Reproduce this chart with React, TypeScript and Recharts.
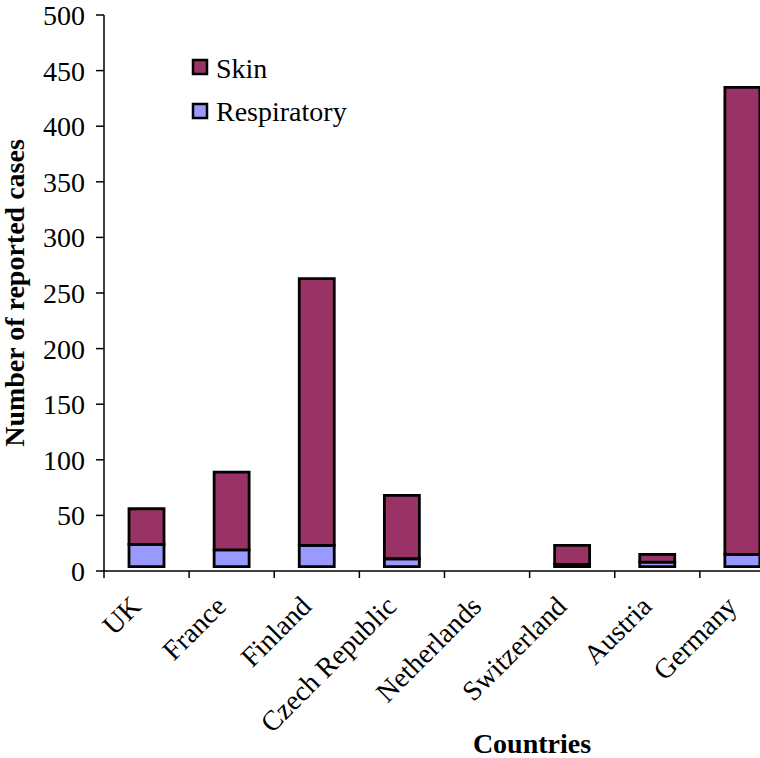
import React from 'react';
import { BarChart, Bar, XAxis, YAxis, Legend } from 'recharts';

// Reported cases per country, stacked: unspecified base, respiratory, skin
const countries = ['UK', 'France', 'Finland', 'Czech Republic', 'Netherlands', 'Switzerland', 'Austria', 'Germany'];
const otherCases = [4, 4, 4, 4, 0, 4, 4, 4];
const respiratoryCases = [20, 15, 19, 7, 0, 2, 4, 11];
const skinCases = [32, 70, 240, 57, 0, 17, 7, 420];
const yTicks = [0, 50, 100, 150, 200, 250, 300, 350, 400, 450, 500];

const SKIN_COLOR = '#993366';
const RESP_COLOR = '#9999FF';
const FONT = "'Liberation Serif', 'Times New Roman', serif";
const serif = { fontFamily: FONT };

const CHART_W = 800;
const CHART_H = 758;
const MARGIN = { top: 15, right: 15, bottom: 0, left: 0 };
const YAXIS_W = 104;
const XAXIS_H = 187;
const PLOT_W = CHART_W - MARGIN.right - MARGIN.left - YAXIS_W;
const PLOT_H = CHART_H - MARGIN.top - MARGIN.bottom - XAXIS_H;
const BAND = PLOT_W / countries.length;
const TICK_LEN = 7;

const data = countries.map((country, i) => ({
  country,
  other: otherCases[i],
  respiratory: respiratoryCases[i],
  skin: skinCases[i],
}));

const legendItems = [
  { name: 'Skin', color: SKIN_COLOR },
  { name: 'Respiratory', color: RESP_COLOR },
];

// Category tick: boundary tick marks plus a label slanted at -45 degrees
const CountryTick = (props: any) => {
  const { x, y, payload, index } = props;
  const half = BAND / 2;
  const axisY = y - TICK_LEN;
  const isLast = index === countries.length - 1;
  return (
    <g>
      <line x1={x - half} x2={x - half} y1={axisY} y2={y} stroke="#000" strokeWidth={1.5} />
      {isLast && (
        <line x1={x + half} x2={x + half} y1={axisY} y2={y} stroke="#000" strokeWidth={1.5} />
      )}
      <g transform={`translate(${x - 4},${y + 30})`}>
        <text textAnchor="end" transform="rotate(-45)" style={serif} fontSize={28} fill="#000">
          {payload.value}
        </text>
      </g>
    </g>
  );
};

// Value tick on the left axis
const CountTick = (props: any) => {
  const { x, y, payload } = props;
  return (
    <text x={x} y={y} dy="0.355em" textAnchor="end" style={serif} fontSize={28} fill="#000">
      {payload.value}
    </text>
  );
};

const YTitle = () => (
  <text
    x={24}
    y={MARGIN.top + PLOT_H / 2}
    transform={`rotate(-90, 24, ${MARGIN.top + PLOT_H / 2})`}
    textAnchor="middle"
    style={serif}
    fontSize={28}
    fontWeight="bold"
    fill="#000"
  >
    Number of reported cases
  </text>
);

const XTitle = () => (
  <text x={532} y={753} textAnchor="middle" style={serif} fontSize={28} fontWeight="bold" fill="#000">
    Countries
  </text>
);

const LegendBox = () => (
  <svg width={220} height={100} style={{ overflow: 'visible', ...serif }}>
    {legendItems.map((item, i) => (
      <g key={item.name}>
        <rect x={4} y={16 + i * 44} width={14} height={14} fill={item.color} stroke="#000" strokeWidth={2.5} />
        <text x={27} y={34 + i * 43} style={serif} fontSize={28} fill="#000">
          {item.name}
        </text>
      </g>
    ))}
  </svg>
);

export default function App() {
  return (
    <div
      style={{
        position: 'absolute',
        left: 0,
        top: 0,
        width: 760,
        height: 758,
        overflow: 'hidden',
        background: '#fff',
        ...serif,
      }}
    >
      <BarChart width={CHART_W} height={CHART_H} data={data} margin={MARGIN} barSize={35} style={serif}>
        <XAxis
          dataKey="country"
          height={XAXIS_H}
          interval={0}
          tickLine={false}
          tickSize={TICK_LEN}
          tickMargin={0}
          axisLine={{ stroke: '#000', strokeWidth: 1.5 }}
          tick={<CountryTick />}
          label={{ content: <XTitle /> }}
        />
        <YAxis
          width={YAXIS_W}
          domain={[0, 500]}
          ticks={yTicks}
          interval={0}
          tickSize={8}
          tickMargin={11}
          axisLine={{ stroke: '#000', strokeWidth: 1.5 }}
          tickLine={{ stroke: '#000', strokeWidth: 1.5 }}
          tick={<CountTick />}
          label={{ content: <YTitle /> }}
        />
        <Legend
          layout="vertical"
          align="center"
          verticalAlign="middle"
          content={<LegendBox />}
          wrapperStyle={{ left: 189, top: 44, width: 220, height: 100 }}
        />
        <Bar dataKey="other" stackId="cases" fill="transparent" legendType="none" isAnimationActive={false} />
        <Bar
          dataKey="respiratory"
          name="Respiratory"
          stackId="cases"
          fill={RESP_COLOR}
          stroke="#000"
          strokeWidth={2.8}
          isAnimationActive={false}
        />
        <Bar
          dataKey="skin"
          name="Skin"
          stackId="cases"
          fill={SKIN_COLOR}
          stroke="#000"
          strokeWidth={2.8}
          isAnimationActive={false}
        />
      </BarChart>
    </div>
  );
}
